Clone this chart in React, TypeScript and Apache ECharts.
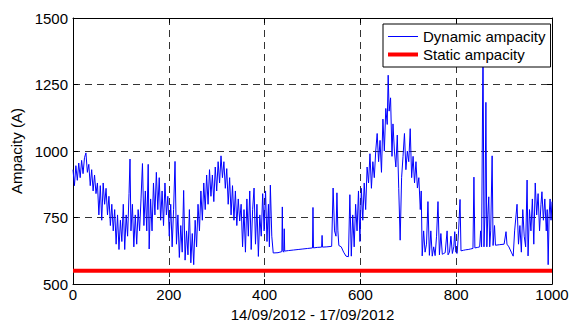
import React, { useEffect, useRef } from "react";
import * as echarts from "echarts";

const xTicks = { min: 0, max: 1000, interval: 200 };
const yTicks = { min: 500, max: 1500, interval: 250 };
const xTitle = "14/09/2012 - 17/09/2012";
const yTitle = "Ampacity (A)";
const seriesNames = ["Dynamic ampacity", "Static ampacity"];

const staticAmpacity: [number, number][] = [
  [0, 550],
  [1000, 550],
];

const dynamicAmpacity: [number, number][] = [
  [0, 930], [3, 870], [6, 945], [9, 890], [12, 955], [15, 900], [18, 965], [21, 915], [24, 975], [27, 993],
  [30, 920], [33, 950], [36, 870], [39, 930], [42, 850], [45, 910], [48, 840], [51, 880], [54, 760], [57, 870],
  [60, 740], [63, 880], [66, 800], [69, 860], [72, 760], [75, 830], [78, 720], [81, 800], [84, 700], [87, 780],
  [90, 650], [93, 760], [96, 630], [99, 740], [102, 660], [105, 800], [108, 630], [111, 760], [114, 680], [117, 840],
  [119, 970], [121, 700], [124, 800], [127, 640], [130, 760], [133, 650], [136, 780], [139, 700], [142, 820], [145, 953],
  [148, 720], [151, 850], [154, 700], [157, 950], [159, 632], [162, 820], [165, 700], [168, 880], [171, 760], [174, 920],
  [177, 780], [180, 900], [183, 740], [186, 850], [189, 720], [192, 880], [195, 760], [198, 830], [201, 680], [204, 800],
  [207, 640], [210, 780], [213, 961], [216, 650], [219, 760], [222, 600], [225, 720], [228, 620], [231, 852], [234, 590],
  [237, 700], [240, 610], [243, 780], [246, 580], [249, 690], [252, 573], [255, 740], [258, 640], [261, 800], [264, 700],
  [267, 850], [270, 740], [273, 880], [276, 780], [279, 910], [282, 800], [285, 930], [288, 830], [291, 910], [294, 810],
  [297, 940], [300, 850], [303, 960], [306, 880], [309, 982], [312, 900], [315, 960], [318, 860], [321, 934], [324, 800],
  [327, 900], [330, 760], [333, 870], [336, 740], [339, 850], [342, 720], [345, 820], [348, 737], [351, 800], [354, 640],
  [357, 780], [360, 620], [363, 820], [366, 680], [369, 850], [372, 630], [375, 780], [378, 861], [381, 650], [384, 800],
  [387, 604], [390, 760], [393, 680], [396, 840], [399, 700], [402, 850], [405, 660], [408, 800], [410, 640], [412, 872],
  [415, 680], [418, 617], [428, 618], [432, 620], [436, 622], [437, 790], [438, 625], [440, 620], [441, 708], [442, 624],
  [450, 626], [460, 628], [470, 630], [480, 632], [490, 634], [500, 636], [501, 788], [502, 636], [510, 638], [519, 639],
  [520, 683], [521, 639], [530, 640], [540, 642], [543, 861], [546, 700], [549, 680], [551, 843], [553, 700], [555, 645],
  [560, 640], [565, 620], [570, 605], [575, 603], [578, 836], [581, 605], [584, 760], [587, 640], [590, 800], [593, 700],
  [596, 850], [599, 660], [602, 860], [605, 740], [608, 880], [611, 780], [614, 940], [617, 880], [620, 990], [623, 860],
  [626, 960], [629, 900], [632, 1000], [635, 1066], [638, 960], [641, 1040], [644, 920], [647, 1120], [650, 1000], [653, 1160],
  [656, 1100], [658, 1285], [660, 1150], [663, 1200], [666, 980], [668, 1102], [671, 1000], [674, 940], [677, 1060], [680, 860],
  [683, 665], [686, 900], [689, 980], [692, 1066], [695, 930], [698, 1000], [701, 960], [704, 1084], [707, 900], [710, 980],
  [713, 880], [716, 960], [719, 861], [722, 900], [725, 780], [727, 850], [729, 606], [732, 700], [735, 620], [738, 650],
  [741, 810], [744, 608], [747, 700], [750, 605], [753, 640], [756, 607], [759, 680], [762, 810], [765, 610], [768, 690],
  [771, 612], [774, 615], [777, 618], [781, 700], [783, 610], [786, 620], [789, 680], [792, 615], [795, 640], [797, 697],
  [799, 620], [802, 615], [805, 700], [808, 818], [810, 625], [815, 627], [820, 629], [825, 630], [830, 632], [835, 634],
  [837, 902], [839, 636], [845, 638], [849, 640], [851, 700], [853, 640], [856, 1420], [858, 640], [860, 760], [862, 1183],
  [864, 640], [866, 760], [868, 828], [870, 640], [872, 700], [875, 982], [877, 645], [880, 720], [882, 646], [890, 648],
  [900, 650], [904, 697], [906, 650], [910, 640], [915, 620], [919, 605], [922, 700], [925, 760], [927, 800], [930, 650],
  [933, 720], [936, 620], [939, 780], [942, 680], [945, 640], [948, 891], [950, 606], [953, 780], [956, 700], [959, 820],
  [962, 650], [965, 880], [968, 760], [971, 840], [974, 700], [977, 800], [979, 847], [982, 740], [985, 820], [988, 700],
  [990, 780], [992, 573], [994, 760], [996, 820], [998, 740], [1000, 810],
];

const FONT = "'Liberation Sans', Arial, sans-serif";
const FS = 15;

export default function App() {
  const ref = useRef<HTMLDivElement>(null);
  useEffect(() => {
    if (!ref.current) return;
    const chart = echarts.init(ref.current, null, { renderer: "svg" });
    const gridLine = { show: true, lineStyle: { color: "#333", width: 1, type: [7, 5] as any } };
    const axisLine = { show: true, onZero: false, lineStyle: { color: "#000", width: 1 } };
    const tick = { show: true, inside: true, length: 5, lineStyle: { color: "#000" } };
    const plain = (v: number) => String(v);
    chart.setOption({
      animation: false,
      backgroundColor: "#fff",
      textStyle: { fontFamily: FONT },
      grid: { left: 73, right: 22, top: 18, bottom: 35, containLabel: false },
      legend: {
        orient: "vertical",
        left: 383,
        top: 24,
        padding: [5, 5, 5, 5],
        itemGap: 3,
        itemWidth: 30,
        itemHeight: 14,
        backgroundColor: "#fff",
        borderColor: "#000",
        borderWidth: 1,
        borderRadius: 0,
        textStyle: { fontFamily: FONT, fontSize: FS, color: "#000", padding: [0, 0, 0, 0] },
        data: [
          { name: seriesNames[0], icon: "path://M0,0 H30 V1 H0 Z", itemStyle: { color: "#0000ff" } },
          { name: seriesNames[1], icon: "path://M0,0 H30 V4 H0 Z", itemStyle: { color: "#ff0000" } },
        ],
      },
      xAxis: [
        {
          type: "value",
          position: "bottom",
          min: xTicks.min,
          max: xTicks.max,
          interval: xTicks.interval,
          name: xTitle,
          nameLocation: "middle",
          nameGap: 20,
          nameTextStyle: { fontFamily: FONT, fontSize: FS, color: "#000" },
          axisLine,
          axisTick: tick,
          axisLabel: { fontFamily: FONT, fontSize: FS, color: "#000", margin: 3, formatter: plain },
          splitLine: gridLine,
        },
        {
          type: "value",
          position: "top",
          min: xTicks.min,
          max: xTicks.max,
          interval: xTicks.interval,
          axisLine,
          axisTick: tick,
          axisLabel: { show: false },
          splitLine: { show: false },
        },
      ],
      yAxis: [
        {
          type: "value",
          position: "left",
          min: yTicks.min,
          max: yTicks.max,
          interval: yTicks.interval,
          name: yTitle,
          nameLocation: "middle",
          nameGap: 43,
          nameTextStyle: { fontFamily: FONT, fontSize: FS, color: "#000" },
          axisLine,
          axisTick: tick,
          axisLabel: { fontFamily: FONT, fontSize: FS, color: "#000", margin: 5, formatter: plain },
          splitLine: gridLine,
        },
        {
          type: "value",
          position: "right",
          min: yTicks.min,
          max: yTicks.max,
          interval: yTicks.interval,
          axisLine,
          axisTick: tick,
          axisLabel: { show: false },
          splitLine: { show: false },
        },
      ],
      series: [
        {
          name: seriesNames[0],
          type: "line",
          data: dynamicAmpacity,
          showSymbol: false,
          symbol: "none",
          lineStyle: { color: "#0000ff", width: 1 },
          itemStyle: { color: "#0000ff" },
          z: 2,
        },
        {
          name: seriesNames[1],
          type: "line",
          data: staticAmpacity,
          showSymbol: false,
          symbol: "none",
          lineStyle: { color: "#ff0000", width: 4 },
          itemStyle: { color: "#ff0000" },
          z: 3,
        },
      ],
    });
    return () => chart.dispose();
  }, []);
  return (
    <div
      ref={ref}
      style={{ position: "absolute", left: 0, top: 0, width: 574, height: 327 }}
    />
  );
}
